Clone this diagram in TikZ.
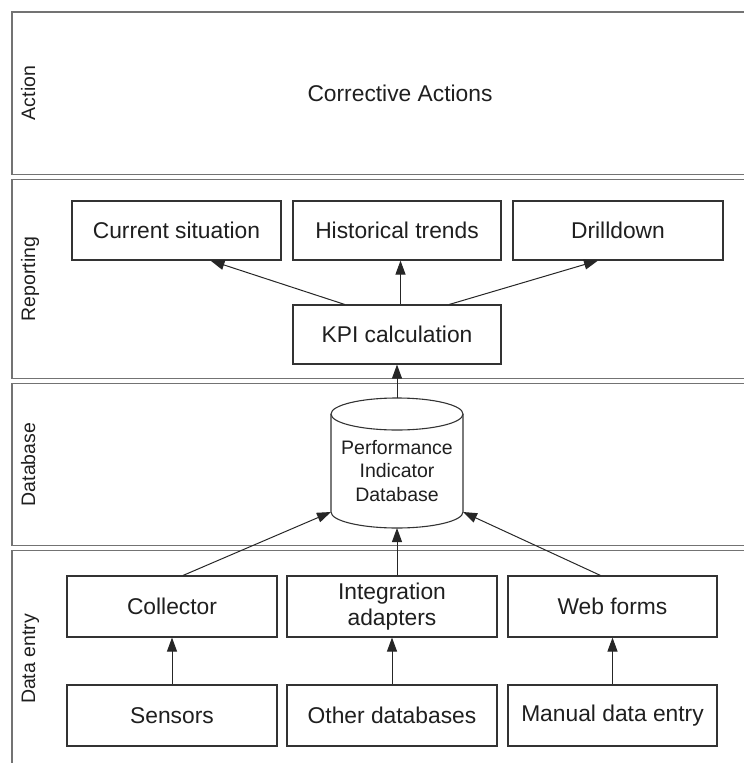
\documentclass[tikz,border=0pt]{standalone}
\usepackage{fontspec}
\setmainfont{Liberation Sans}
\usetikzlibrary{arrows.meta,calc}
\begin{document}
\begin{tikzpicture}[x=1pt,y=-1pt,
  lane/.style={draw=black!55,line width=1.6pt},
  lanelabel/.style={rotate=90,anchor=base,inner sep=0pt,
    font=\fontsize{19.5}{23}\selectfont,text=black!88},
  box/.style={draw=black!80,line width=1.1pt,fill=white,inner sep=2pt,
    align=center,font=\fontsize{22.8}{26}\selectfont,text=black!88},
  flow/.style={draw=black!85,line width=1pt,-{Triangle[width=10pt,length=14pt]}}]

\path[use as bounding box] (0,0) rectangle (744,763);

% swimlanes
\draw[lane] (12,12)    rectangle (790,174.5);
\draw[lane] (12,179.5) rectangle (790,378.5);
\draw[lane] (12,383.5) rectangle (790,545.5);
\draw[lane] (12,550.5) rectangle (790,790);

\node[lanelabel] (lAction)   at (35,93)    {Action};
\node[lanelabel] (lReport)   at (35,279)   {Reporting};
\node[lanelabel] (lDatabase) at (35,464.5) {Database};
\node[lanelabel] (lEntry)    at (35,659)   {Data entry};

% action lane
\node[font=\fontsize{22.8}{26}\selectfont,text=black!88] (corr) at (400,93) {Corrective Actions};

% reporting lane
\node[box,minimum width=209pt,minimum height=59pt] (cur)   at (176.5,230.5) {Current situation};
\node[box,minimum width=208pt,minimum height=59pt] (hist)  at (397,230.5)   {Historical trends};
\node[box,minimum width=210pt,minimum height=59pt] (drill) at (618,230.5)   {Drilldown};
\node[box,minimum width=208pt,minimum height=59pt] (kpi)   at (397,334.5)   {KPI calculation};

% database lane: cylinder
\draw[draw=black!80,line width=1.1pt,fill=white]
  (331,414) -- (331,512) arc[start angle=180,end angle=360,x radius=66pt,y radius=16pt] -- (463,414);
\draw[draw=black!80,line width=1.1pt,fill=white] (397,414) ellipse[x radius=66pt,y radius=16pt];
\coordinate (dbtop) at (397,398);
\coordinate (dbbot) at (397,528);
\coordinate (dbl)   at (331,512);
\coordinate (dbr)   at (463,512);
\node[align=center,font=\fontsize{19.5}{23.5}\selectfont,text=black!88] (db) at (397,471)
  {Performance\\Indicator\\Database};

% data entry lane
\node[box,minimum width=210pt,minimum height=61pt] (coll)   at (172,606.5)   {Collector};
\node[box,minimum width=210pt,minimum height=61pt] (integ)  at (392,606.5)   {Integration\\adapters};
\node[box,minimum width=209pt,minimum height=61pt] (web)    at (612.5,606.5) {Web forms};
\node[box,minimum width=210pt,minimum height=61pt] (sens)   at (172,715.5)   {Sensors};
\node[box,minimum width=210pt,minimum height=61pt] (other)  at (392,715.5)   {Other databases};
\node[box,minimum width=209pt,minimum height=61pt] (manual) at (612.5,715.5) {Manual data entry};

% flows
\draw[flow] ($(kpi.north)!0.5!(kpi.north west)$) -- ([xshift=34pt]cur.south);
\draw[flow] ([xshift=3.5pt]kpi.north) -- ([xshift=3.5pt]hist.south);
\draw[flow] ($(kpi.north)!0.5!(kpi.north east)$) -- ([xshift=-20pt]drill.south);
\draw[flow] (dbtop) -- (kpi.south);
\draw[flow] ([xshift=11pt]coll.north) -- (dbl);
\draw[flow] (dbbot |- integ.north) -- (dbbot);
\draw[flow] ([xshift=-12pt]web.north) -- (dbr);
\draw[flow] (sens.north) -- (coll.south);
\draw[flow] (other.north) -- (integ.south);
\draw[flow] (manual.north) -- (web.south);
\end{tikzpicture}
\end{document}
